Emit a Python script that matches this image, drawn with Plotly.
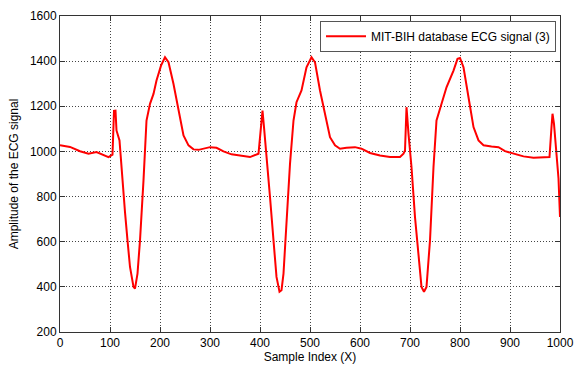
import plotly.graph_objects as go

sample_index = [0, 20, 40, 57, 73, 87, 97, 105, 108, 111, 113, 119, 123, 130, 135, 140, 147, 150, 155, 160,
                167, 173, 180, 187, 193, 202, 210, 217, 227, 237, 247, 257, 267, 277, 287, 300, 313, 327,
                343, 360, 380, 397, 401, 405, 408, 413, 420, 427, 433, 439, 443, 447, 453, 460, 467, 473,
                483, 493, 503, 510, 520, 530, 540, 550, 560, 573, 590, 603, 620, 640, 660, 680, 687, 690,
                693, 697, 703, 710, 717, 723, 728, 733, 740, 747, 753, 763, 773, 787, 795, 800, 807, 817,
                827, 837, 847, 863, 877, 890, 907, 927, 947, 967, 979, 983, 985, 988, 993, 997, 1000]
amplitude = [1027, 1020, 1001, 990, 997, 985, 975, 986, 1180, 1181, 1093, 1049, 916, 731, 606, 488, 400, 392, 459, 606,
             872, 1137, 1211, 1255, 1314, 1380, 1417, 1395, 1299, 1181, 1071, 1027, 1009, 1007, 1012, 1019, 1016, 1000,
             987, 982, 975, 990, 1078, 1181, 1108, 990, 798, 606, 444, 378, 385, 459, 680, 945, 1137, 1218,
             1270, 1373, 1417, 1395, 1270, 1167, 1063, 1027, 1012, 1016, 1019, 1012, 993, 982, 975, 975, 990, 1004,
             1196, 1078, 931, 709, 532, 400, 378, 400, 606, 931, 1137, 1211, 1284, 1358, 1410, 1414, 1373, 1240,
             1108, 1049, 1027, 1022, 1019, 1001, 990, 978, 972, 972, 975, 1108, 1167, 1122, 1004, 880, 710]

x_ticks = [0, 100, 200, 300, 400, 500, 600, 700, 800, 900, 1000]
y_ticks = [200, 400, 600, 800, 1000, 1200, 1400, 1600]

fig = go.Figure()
fig.add_trace(go.Scatter(
    x=sample_index, y=amplitude, mode="lines",
    name="MIT-BIH database ECG signal (3)",
    line=dict(color="#ff0000", width=2),
))

axis_common = dict(
    showgrid=True, gridcolor="#444444", griddash="1px,2px", gridwidth=1,
    showline=True, linecolor="#333333", linewidth=1, mirror="ticks",
    ticks="inside", ticklen=5, tickcolor="#333333",
    zeroline=False, automargin=False,
    tickfont=dict(family="Liberation Sans, Arial, sans-serif", size=12, color="#000000"),
)

fig.update_layout(
    width=576, height=370,
    margin=dict(l=60, r=16, t=16, b=38),
    paper_bgcolor="white", plot_bgcolor="white",
    font=dict(family="Liberation Sans, Arial, sans-serif", size=12, color="#000000"),
    showlegend=True,
    legend=dict(
        x=0.992, y=0.985, xanchor="right", yanchor="top",
        bgcolor="white", bordercolor="#555555", borderwidth=1,
        font=dict(size=12), itemwidth=40,
    ),
    xaxis=dict(range=[0, 1000], tickvals=x_ticks,
               title=dict(text="Sample Index (X)", standoff=2, font=dict(size=12)),
               **axis_common),
    yaxis=dict(range=[200, 1600], tickvals=y_ticks,
               title=dict(text="Amplitude of the ECG signal", standoff=8, font=dict(size=12)),
               **axis_common),
)

fig.write_html("out.html")
